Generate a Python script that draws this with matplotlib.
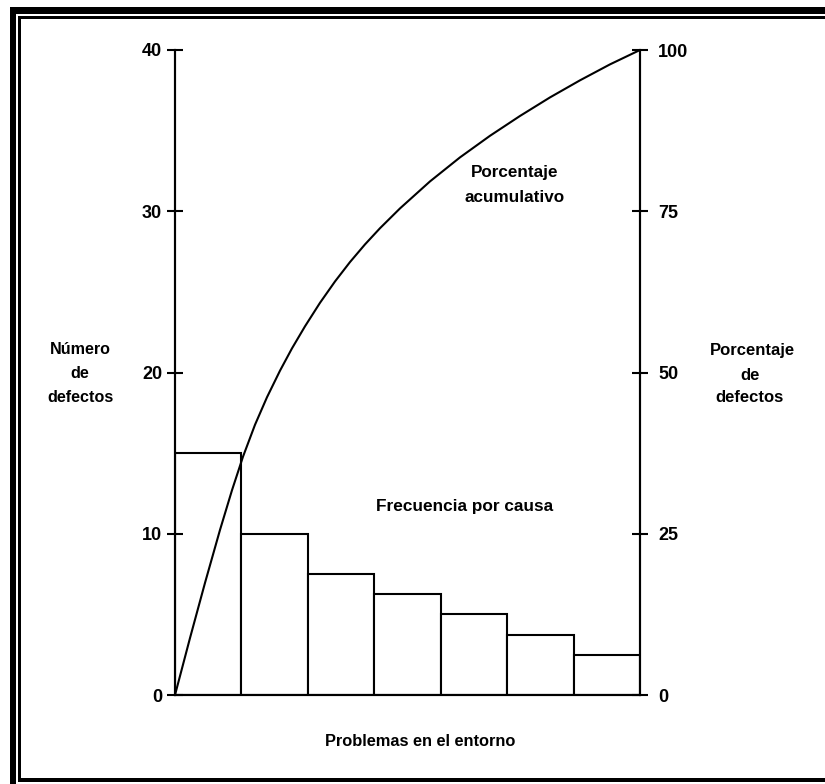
import matplotlib
matplotlib.use("Agg")
import matplotlib.pyplot as plt
from matplotlib.patches import Rectangle

plt.rcParams['font.family'] = ['Liberation Sans', 'DejaVu Sans']
plt.rcParams['font.weight'] = 'bold'

# Data
frequencies = [15, 10, 7.5, 6.25, 5, 3.75, 2.5]
curve_x = [0.000, 0.226, 0.452, 0.677, 0.858, 1.024, 1.204, 1.385, 1.581, 1.761,
           1.957, 2.183, 2.409, 2.634, 2.860, 3.086, 3.387, 3.839, 4.290, 4.742,
           5.193, 5.645, 6.097, 6.548, 7.000]
curve_pct = [0.0, 8.84, 17.40, 25.58, 31.75, 36.96, 41.89, 46.17, 50.29, 53.74,
             57.16, 60.81, 64.12, 67.12, 69.86, 72.37, 75.44, 79.63, 83.35, 86.70,
             89.77, 92.65, 95.30, 97.77, 100.0]
left_ticks = [0, 10, 20, 30, 40]
right_ticks = [0, 25, 50, 75, 100]

W, H = 825, 784
fig = plt.figure(figsize=(W / 100, H / 100), dpi=100)
fig.patch.set_facecolor('white')

def px_rect(x0, y0, x1, y1):
    fig.add_artist(Rectangle((x0 / W, 1 - y1 / H), (x1 - x0) / W, (y1 - y0) / H,
                             transform=fig.transFigure, facecolor='black',
                             edgecolor='none', zorder=10))

# Frame (outer thick, inner thin)
px_rect(10, 7, 16, 784)
px_rect(10, 7, 825, 14)
px_rect(18, 16, 21, 782)
px_rect(18, 16, 825, 19)
px_rect(18, 778, 825, 782)

ax = fig.add_axes([175 / W, 1 - 695 / H, 465 / W, 645 / H])
ax2 = ax.twinx()

xs = [i + 0.5 for i in range(len(frequencies))]
ax.bar(xs, frequencies, width=1.0, facecolor='white', edgecolor='black', linewidth=1.5)
ax2.plot(curve_x, curve_pct, color='black', linewidth=1.5,
         solid_joinstyle='round', antialiased=True)

ax.set_xlim(0, len(frequencies))
ax.set_ylim(0, 40)
ax2.set_ylim(0, 100)

for a in (ax, ax2):
    a.spines['top'].set_visible(False)
    for s in a.spines.values():
        s.set_linewidth(1.5)
    a.set_facecolor('none')

ax.set_xticks([])
ax.set_yticks(left_ticks)
ax.set_yticklabels([str(t) for t in left_ticks])
ax2.set_yticks(right_ticks)
ax2.set_yticklabels([str(t) for t in right_ticks])
ax.tick_params(axis='y', direction='inout', length=11.5, width=1.5, pad=3.6,
               labelsize=13)
ax2.tick_params(axis='y', direction='inout', length=11.5, width=1.5, pad=7.2,
                labelsize=13)
for lab in ax.get_yticklabels() + ax2.get_yticklabels():
    lab.set_fontweight('bold')

def ftext(x, y, s, size=12):
    fig.text(x / W, 1 - y / H, s, ha='center', va='center', fontsize=size,
             fontweight='bold')

ftext(80, 349, 'Número', 11.6)
ftext(80, 374, 'de', 11.6)
ftext(80, 397, 'defectos', 11.6)
ftext(752, 351, 'Porcentaje')
ftext(750, 375, 'de')
ftext(750, 398, 'defectos')
ftext(515, 173, 'Porcentaje', 12.3)
ftext(515, 197, 'acumulativo', 12.3)
ftext(465, 506, 'Frecuencia por causa', 12.4)
ftext(420, 741, 'Problemas en el entorno', 11.8)

fig.savefig('out.png', dpi=100, facecolor='white')
